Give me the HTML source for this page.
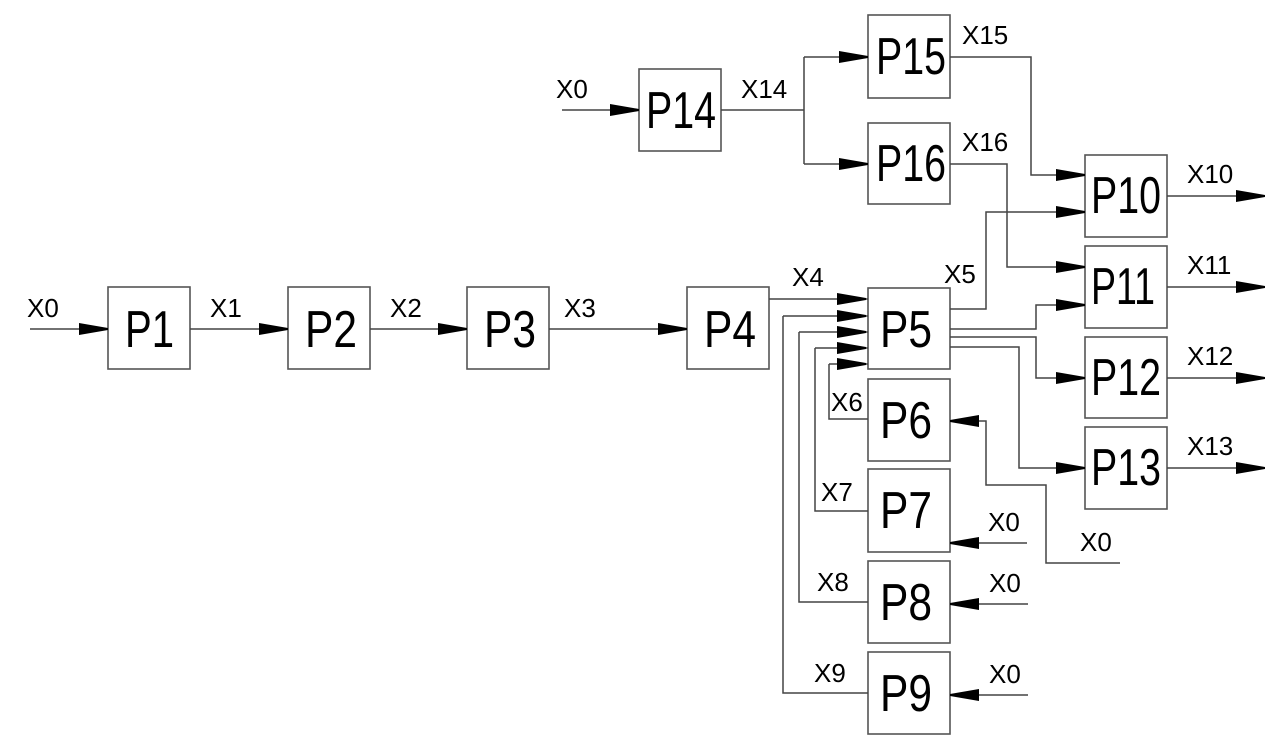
<!DOCTYPE html>
<html><head><meta charset="utf-8"><style>
html,body{margin:0;padding:0;background:#fff;}
svg{display:block;}
.b{fill:#fff;stroke:#555;stroke-width:1.6;}
.l{fill:none;stroke:#444;stroke-width:1.5;}
.a{fill:#000;}
.t{font-family:"Liberation Sans",sans-serif;font-size:52px;fill:#000;}
.s{font-family:"Liberation Sans",sans-serif;font-size:26px;fill:#000;}
</style></head><body>
<svg width="1275" height="747" viewBox="0 0 1275 747" xmlns="http://www.w3.org/2000/svg">
<defs>
<polygon id="ar" points="-29,-6 0,-1 0,1 -29,6" class="a"/>
<polygon id="al" points="29,-6 0,-1 0,1 29,6" class="a"/>
</defs>
<!-- boxes -->
<rect class="b" x="108" y="287" width="82" height="82"/>
<rect class="b" x="288" y="287" width="82" height="82"/>
<rect class="b" x="467" y="287" width="82" height="82"/>
<rect class="b" x="687" y="287" width="82" height="82"/>
<rect class="b" x="868" y="288" width="82" height="81"/>
<rect class="b" x="868" y="379" width="82" height="82"/>
<rect class="b" x="868" y="469" width="82" height="83"/>
<rect class="b" x="868" y="561" width="82" height="82"/>
<rect class="b" x="868" y="652" width="82" height="82"/>
<rect class="b" x="639" y="69" width="82" height="82"/>
<rect class="b" x="868" y="15" width="82" height="83"/>
<rect class="b" x="868" y="123" width="82" height="81"/>
<rect class="b" x="1085" y="155" width="82" height="82"/>
<rect class="b" x="1085" y="246" width="82" height="82"/>
<rect class="b" x="1085" y="337" width="82" height="81"/>
<rect class="b" x="1085" y="427" width="82" height="82"/>
<!-- box labels -->
<text class="t" x="125" y="347" textLength="49" lengthAdjust="spacingAndGlyphs">P1</text>
<text class="t" x="305" y="347" textLength="52" lengthAdjust="spacingAndGlyphs">P2</text>
<text class="t" x="484" y="347" textLength="52" lengthAdjust="spacingAndGlyphs">P3</text>
<text class="t" x="704" y="347" textLength="52" lengthAdjust="spacingAndGlyphs">P4</text>
<text class="t" x="880" y="347" textLength="52" lengthAdjust="spacingAndGlyphs">P5</text>
<text class="t" x="880" y="438" textLength="52" lengthAdjust="spacingAndGlyphs">P6</text>
<text class="t" x="880" y="528" textLength="52" lengthAdjust="spacingAndGlyphs">P7</text>
<text class="t" x="880" y="620" textLength="52" lengthAdjust="spacingAndGlyphs">P8</text>
<text class="t" x="880" y="711" textLength="52" lengthAdjust="spacingAndGlyphs">P9</text>
<text class="t" x="646" y="128" textLength="70" lengthAdjust="spacingAndGlyphs">P14</text>
<text class="t" x="876" y="74" textLength="70" lengthAdjust="spacingAndGlyphs">P15</text>
<text class="t" x="876" y="181" textLength="70" lengthAdjust="spacingAndGlyphs">P16</text>
<text class="t" x="1091" y="213" textLength="70" lengthAdjust="spacingAndGlyphs">P10</text>
<text class="t" x="1091" y="304" textLength="64" lengthAdjust="spacingAndGlyphs">P11</text>
<text class="t" x="1091" y="395" textLength="70" lengthAdjust="spacingAndGlyphs">P12</text>
<text class="t" x="1091" y="485" textLength="70" lengthAdjust="spacingAndGlyphs">P13</text>
<!-- main chain -->
<path class="l" d="M30 329H108M190 329H288M370 329H467M549 329H687"/>
<use href="#ar" x="108" y="329"/><use href="#ar" x="288" y="329"/><use href="#ar" x="467" y="329"/><use href="#ar" x="687" y="329"/>
<text class="s" x="27" y="317">X0</text>
<text class="s" x="210" y="317">X1</text>
<text class="s" x="390" y="317">X2</text>
<text class="s" x="564" y="317">X3</text>
<!-- P14 branch -->
<path class="l" d="M562 110H639M721 110H804M804 57V164M804 57H868M804 164H868"/>
<use href="#ar" x="639" y="110"/><use href="#ar" x="868" y="57"/><use href="#ar" x="868" y="164"/>
<text class="s" x="556" y="98">X0</text>
<text class="s" x="741" y="98">X14</text>
<!-- P15/P16 to P10/P11 -->
<path class="l" d="M950 57H1031V175H1085M950 164H1007V267H1085"/>
<use href="#ar" x="1085" y="175"/><use href="#ar" x="1085" y="267"/>
<text class="s" x="962" y="44">X15</text>
<text class="s" x="962" y="151">X16</text>
<!-- X5 -->
<path class="l" d="M950 309H986V212H1085"/>
<use href="#ar" x="1085" y="212"/>
<text class="s" x="944" y="283">X5</text>
<!-- P5 outputs -->
<path class="l" d="M950 329H1036V305H1085M950 337H1036V378H1085M950 347H1019V468H1085"/>
<use href="#ar" x="1085" y="305"/><use href="#ar" x="1085" y="378"/><use href="#ar" x="1085" y="468"/>
<!-- outputs right -->
<path class="l" d="M1167 196H1265M1167 287H1265M1167 378H1265M1167 468H1265"/>
<use href="#ar" x="1265" y="196"/><use href="#ar" x="1265" y="287"/><use href="#ar" x="1265" y="378"/><use href="#ar" x="1265" y="468"/>
<text class="s" x="1187" y="183">X10</text>
<text class="s" x="1187" y="274">X11</text>
<text class="s" x="1187" y="365">X12</text>
<text class="s" x="1187" y="455">X13</text>
<!-- P5 inputs -->
<path class="l" d="M769 299H868M783 316H868M799 332H868M815 348H868M829 364H868"/>
<path class="l" d="M829 364V419H868M815 348V511H868M799 332V602H868M783 316V693H868"/>
<use href="#ar" x="866" y="299"/><use href="#ar" x="866" y="316"/><use href="#ar" x="866" y="332"/><use href="#ar" x="866" y="348"/><use href="#ar" x="866" y="364"/>
<text class="s" x="792" y="286">X4</text>
<text class="s" x="831" y="411">X6</text>
<text class="s" x="821" y="501">X7</text>
<text class="s" x="817" y="591">X8</text>
<text class="s" x="814" y="682">X9</text>
<!-- X0 into P6..P9 -->
<path class="l" d="M1120 563H1046V485H986V421H950"/>
<use href="#al" x="950" y="421"/>
<text class="s" x="1080" y="551">X0</text>
<path class="l" d="M1027 543H950M1028 604H950M1028 695H950"/>
<use href="#al" x="950" y="543"/><use href="#al" x="950" y="604"/><use href="#al" x="950" y="695"/>
<text class="s" x="988" y="531">X0</text>
<text class="s" x="989" y="592">X0</text>
<text class="s" x="989" y="683">X0</text>
</svg>
</body></html>
